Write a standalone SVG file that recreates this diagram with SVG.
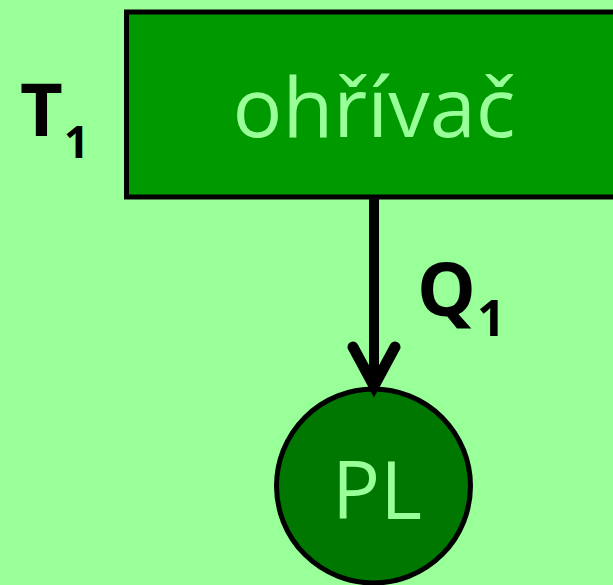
<svg xmlns="http://www.w3.org/2000/svg" width="613" height="585" viewBox="0 0 613 585">
<style>
.lbl{font-family:"Open Sans","Liberation Sans",sans-serif;fill:#99ff99;text-anchor:middle}
.var{font-family:"Open Sans","Liberation Sans",sans-serif;font-weight:bold;fill:#000}
</style>
<rect x="0" y="0" width="613" height="585" fill="#99ff99"/>
<g id="ohrivac">
<rect x="126.5" y="12" width="520" height="185" fill="#009900" stroke="#000" stroke-width="5"/>
<text class="lbl" x="374" y="137" font-size="83">ohřívač</text>
</g>
<g id="T1">
<text class="var" x="20" y="136" font-size="74">T</text>
<text class="var" x="64" y="158" font-size="44">1</text>
</g>
<g id="PL">
<circle cx="373.5" cy="486" r="97" fill="#007700" stroke="#000" stroke-width="5"/>
<text class="lbl" x="377" y="519" font-size="80">PL</text>
</g>
<g id="connectors">
<line x1="374" y1="197" x2="374" y2="386" stroke="#000" stroke-width="10"/>
<polyline points="353,347 374,386 395,347" fill="none" stroke="#000" stroke-width="11" stroke-linecap="round" stroke-linejoin="miter"/>
</g>
<g id="Q1">
<text class="var" x="417" y="316" font-size="74">Q</text>
<text class="var" x="477" y="336" font-size="50">1</text>
</g>
</svg>
